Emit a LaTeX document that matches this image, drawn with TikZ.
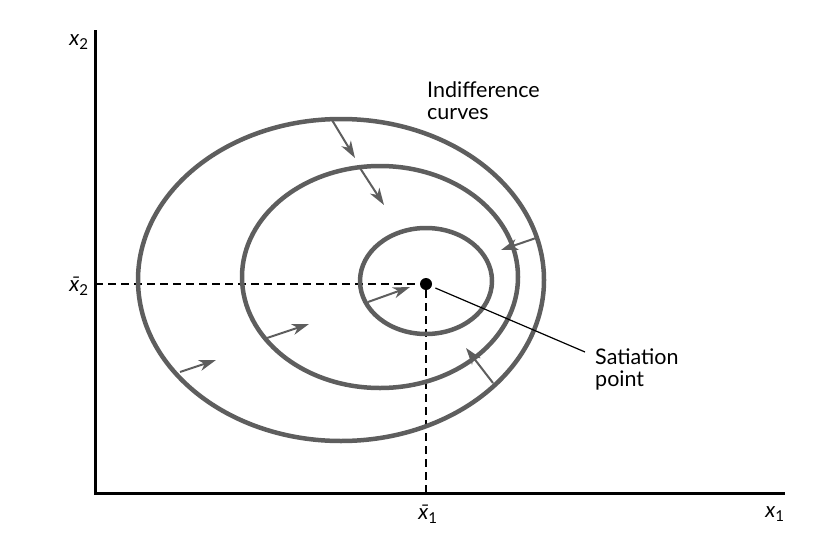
\documentclass[tikz,border=0pt]{standalone}
\usepackage{fontspec}
\setmainfont{Lato}
\usetikzlibrary{arrows.meta}
\newcommand{\barx}{{\itshape x^^^^0304}}

\begin{document}
\begin{tikzpicture}[x=1pt, y=-1pt,
		curve/.style={line width=4.5pt, color=black!63},
		shiftarrow/.style={line width=2pt, color=black!63, -{Stealth[length=17pt, width=11pt, inset=5pt]}},
		axis/.style={line width=3pt, color=black},
		guide/.style={line width=1.4pt, dash pattern=on 8pt off 5pt},
		lbl/.style={font=\fontsize{21.5}{22}\selectfont, inner sep=0pt}]
			%%%%% START %%%%%
			
			\useasboundingbox (0, 0) rectangle (824, 538);
			
			\coordinate (origin) at (95, 493);
			\coordinate (ytop) at (95, 30);
			\coordinate (xend) at (785, 493);
			\draw[axis] (ytop) -- (origin) -- (xend);
			
			\node[circle, fill=black, inner sep=0pt, minimum size=12pt] (sat) at (426, 284) {};
			\coordinate (x2foot) at (95, 284);
			\coordinate (x1foot) at (426, 493);
			\draw[guide] (x2foot) -- (sat.west);
			\draw[guide] (sat.south) -- (x1foot);
			
			\draw[curve] (341, 280) ellipse [x radius=203, y radius=161];
			\draw[curve] (380, 277) ellipse [x radius=138, y radius=111];
			\draw[curve] (426, 281) ellipse [x radius=66, y radius=53];
			
			\coordinate (a1) at (332, 120);  \coordinate (b1) at (355, 158);
			\coordinate (a2) at (360, 168);  \coordinate (b2) at (384, 205);
			\coordinate (a3) at (536, 238);  \coordinate (b3) at (501, 250);
			\coordinate (a4) at (493, 383);  \coordinate (b4) at (466, 348);
			\coordinate (a5) at (180, 372);  \coordinate (b5) at (216, 360);
			\coordinate (a6) at (267, 338);  \coordinate (b6) at (309, 324);
			\coordinate (a7) at (368, 302);  \coordinate (b7) at (410, 287);
			\draw[shiftarrow] (a1) -- (b1);
			\draw[shiftarrow] (a2) -- (b2);
			\draw[shiftarrow] (a3) -- (b3);
			\draw[shiftarrow] (a4) -- (b4);
			\draw[shiftarrow] (a5) -- (b5);
			\draw[shiftarrow] (a6) -- (b6);
			\draw[shiftarrow] (a7) -- (b7);
			
			\node[lbl, anchor=north west, align=left] (curveslbl) at (427, 81) {Indifference\\curves};
			\node[lbl, anchor=north west, align=left] (satlbl) at (595, 349) {Satiation\\point};
			\coordinate (leadend) at (585, 352);
			\draw[line width=1.2pt, shorten <=4pt] (sat) -- (leadend);
			
			\node[lbl] (x2lbl) at (79, 42) {{\itshape x}\textsubscript{2}};
			\node[lbl] (x2barlbl) at (79, 286) {\barx\textsubscript{2}};
			\node[lbl] (x1barlbl) at (428, 514) {\barx\textsubscript{1}};
			\node[lbl] (x1lbl) at (775, 514) {{\itshape x}\textsubscript{1}};
			
			%%%%% END %%%%%
\end{tikzpicture}
\end{document}
